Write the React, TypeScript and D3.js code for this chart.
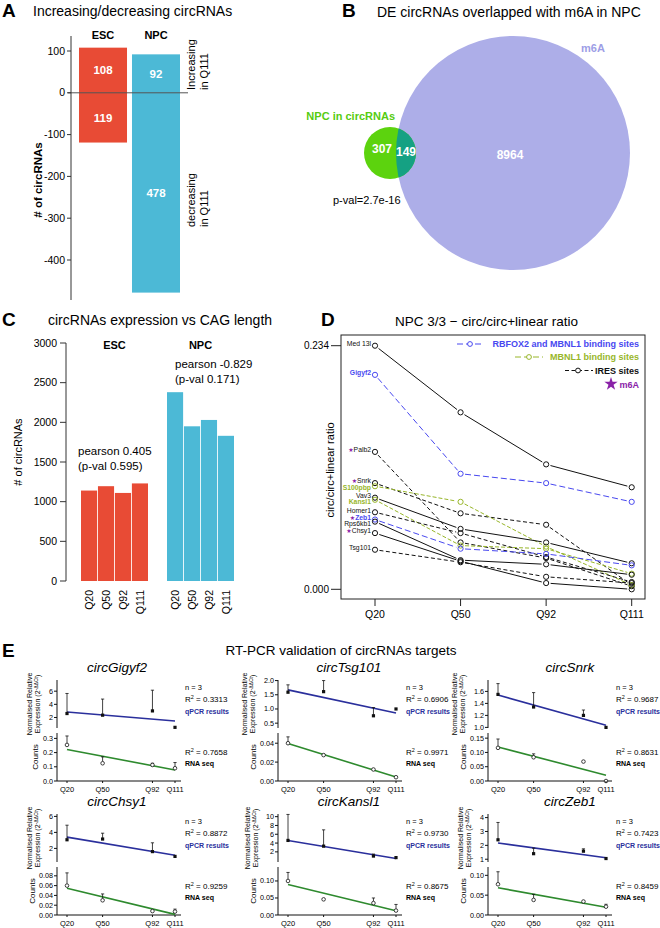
import React from "react";
import * as d3 from "d3";

const FONT = "'Liberation Sans', Arial, Helvetica, sans-serif";
const RED = "#e84b35";
const CYAN = "#4cb9d6";
const D_BLUE = "#4848f0";
const D_GREEN = "#98b62a";
const D_PURPLE = "#8a22a8";

// ---------- A: increasing / decreasing circRNAs
const aGroups = ["ESC", "NPC"];
const aUp = [108, 92];
const aDown = [119, 478];
const aTicks = [100, 0, -100, -200, -300, -400];

// ---------- B: venn
const bSetNames = ["NPC in circRNAs", "m6A"];
const bCounts = [307, 149, 8964]; // NPC only, overlap, m6A only
const bPval = "p-val=2.7e-16";

// ---------- C: expression vs CAG length
const cLabels = ["Q20", "Q50", "Q92", "Q111"];
const cEsc = [1140, 1195, 1110, 1230];
const cNpc = [2380, 1950, 2030, 1830];
const cTicks = [0, 500, 1000, 1500, 2000, 2500, 3000];
const cEscStats = ["pearson 0.405", "(p-val 0.595)"];
const cNpcStats = ["pearson -0.829", "(p-val 0.171)"];

// ---------- D: circ/circ+linear ratio
const dCags = ["Q20", "Q50", "Q92", "Q111"];
const dNames = ["Med 13l", "Gigyf2", "Palb2", "Snrk", "S100pbp", "Vav3", "Kansl1", "Homer1", "Zeb1", "Rps6kb1", "Chsy1", "Tsg101"];
const dGroup = ["none", "rbfox", "ires", "ires", "mbnl", "none", "mbnl", "ires", "rbfox", "none", "none", "ires"];
const dM6a = [false, false, true, true, false, false, false, false, true, false, true, false];
const dValues = [
  [0.234, 0.170, 0.120, 0.098],
  [0.206, 0.111, 0.102, 0.084],
  [0.132, 0.045, 0.030, 0.003],
  [0.102, 0.073, 0.062, 0.004],
  [0.099, 0.084, 0.041, 0.004],
  [0.088, 0.058, 0.045, 0.025],
  [0.086, 0.042, 0.039, 0.015],
  [0.074, 0.054, 0.031, 0.007],
  [0.067, 0.039, 0.034, 0.023],
  [0.065, 0.028, 0.024, 0.014],
  [0.054, 0.027, 0.006, 0.000],
  [0.038, 0.026, 0.012, 0.006],
];
const dLegend = ["RBFOX2 and MBNL1 binding sites", "MBNL1 binding sites", "IRES sites", "m6A"];

// ---------- E: RT-PCR validation
const eGenes = ["circGigyf2", "circTsg101", "circSnrk", "circChsy1", "circKansl1", "circZeb1"];
const eCag = [20, 50, 92, 111];
const eCagLabels = ["Q20", "Q50", "Q92", "Q111"];
const eQpcrMean = [
  [2.6, 2.35, 3.0, 0.5],
  [1.59, 1.61, 0.76, 1.0],
  [1.55, 1.34, 1.2, 1.0],
  [3.08, 3.17, 1.6, 1.0],
  [4.6, 3.3, 1.05, 0.7],
  [2.4, 1.4, 1.58, 1.05],
];
const eQpcrTop = [
  [5.65, 4.8, 6.15, null],
  [1.85, 2.0, 1.05, null],
  [1.73, 1.58, 1.29, null],
  [4.9, 3.9, 2.7, null],
  [10.5, 7.0, 1.5, null],
  [3.65, 1.8, 1.75, null],
];
const eQpcrDomain = [[0.4, 7.7], [0.33, 2.02], [0.99, 1.79], [0.3, 6.3], [-0.3, 10.6], [0.8, 4.26]];
const eQpcrTicks = [[2, 4, 6], [0.5, 1.0, 1.5, 2.0], [1.0, 1.2, 1.4, 1.6], [2, 4, 6], [2, 4, 6, 8, 10], [1, 2, 3, 4]];
const eQpcrDigits = [0, 1, 1, 0, 0, 0];
const eSeqMean = [
  [0.254, 0.125, 0.113, 0.09],
  [0.040, 0.0274, 0.0122, 0.004],
  [0.116, 0.083, 0.068, 0.0],
  [0.06, 0.03, 0.008, 0.007],
  [0.10, 0.046, 0.035, 0.013],
  [0.0775, 0.038, 0.034, 0.021],
];
const eSeqTop = [
  [0.317, 0.17, 0.125, 0.13],
  [0.0467, null, null, null],
  [0.147, 0.095, null, null],
  [0.086, 0.043, null, 0.012],
  [0.125, null, 0.05, 0.031],
  [0.109, 0.052, null, 0.027],
];
const eSeqMax = [0.338, 0.0508, 0.168, 0.098, 0.141, 0.121];
const eSeqTicks = [[0, 0.1, 0.2, 0.3], [0, 0.02, 0.04], [0, 0.05, 0.1, 0.15], [0, 0.02, 0.04, 0.06, 0.08], [0, 0.05, 0.1], [0, 0.05, 0.1]];
const eSeqDigits = [1, 2, 2, 2, 2, 2];
const eR2Qpcr = ["0.3313", "0.6906", "0.9687", "0.8872", "0.9730", "0.7423"];
const eR2Seq = ["0.7658", "0.9971", "0.8631", "0.9259", "0.8675", "0.8459"];

// layout for E
const eAxisX = [57, 278, 488];
const eTitleX = [117, 349, 570];
const eRowShift = [0, 134];

function fit(xs: number[], ys: number[]) {
  const mx = d3.mean(xs) as number;
  const my = d3.mean(ys) as number;
  const sxy = d3.sum(xs, (x, i) => (x - mx) * (ys[i] - my));
  const sxx = d3.sum(xs, (x) => (x - mx) * (x - mx));
  const b = sxy / sxx;
  return (x: number) => my + b * (x - mx);
}

function PanelA() {
  const y = d3.scaleLinear().domain([100, -400]).range([51, 260]);
  const x = d3.scaleBand().domain(aGroups).range([79, 180]).paddingInner(0.094);
  const bw = x.bandwidth();
  const colors = [RED, CYAN];
  return (
    <g>
      <text x={2} y={17} fontSize={19} fontWeight="bold">A</text>
      <text x={33} y={16} fontSize={14}>Increasing/decreasing circRNAs</text>
      {aGroups.map((g, i) => {
        const cx = (x(g) as number) + bw / 2;
        return (
          <g key={g}>
            <rect x={x(g)} y={y(aUp[i])} width={bw} height={y(-aDown[i]) - y(aUp[i])} fill={colors[i]} />
            <text x={cx} y={(y(aUp[i]) + y(0)) / 2} dy="0.35em" textAnchor="middle" fill="#fff" fontSize={11.5} fontWeight="bold">{aUp[i]}</text>
            <text x={cx} y={(y(0) + y(-aDown[i])) / 2} dy="0.35em" textAnchor="middle" fill="#fff" fontSize={11.5} fontWeight="bold">{aDown[i]}</text>
            <text x={cx} y={39} textAnchor="middle" fontSize={11} fontWeight="bold">{g}</text>
          </g>
        );
      })}
      <line x1={68} x2={188} y1={y(0)} y2={y(0)} stroke="#555" strokeWidth={1} />
      <line x1={71} x2={71} y1={36} y2={300} stroke="#333" strokeWidth={1} />
      {aTicks.map((t) => (
        <g key={t}>
          <line x1={67} x2={71} y1={y(t)} y2={y(t)} stroke="#333" />
          <text x={65} y={y(t)} dy="0.35em" textAnchor="end" fontSize={10.5}>{t}</text>
        </g>
      ))}
      <text transform="translate(42,180) rotate(-90)" textAnchor="middle" fontSize={11.5} fontWeight="bold"># of circRNAs</text>
      <g fontSize={11}>
        <text transform="translate(195,90) rotate(-90)">Increasing</text>
        <text transform="translate(208,90) rotate(-90)">in Q111</text>
        <text transform="translate(195,227) rotate(-90)">decreasing</text>
        <text transform="translate(208,227) rotate(-90)">in Q111</text>
      </g>
    </g>
  );
}

function PanelB() {
  const big = { cx: 513, cy: 153, r: 117 };
  const small = { cx: 390, cy: 153, r: 26 };
  return (
    <g>
      <defs>
        <clipPath id="bigClip">
          <circle cx={big.cx} cy={big.cy} r={big.r} />
        </clipPath>
      </defs>
      <text x={342} y={17} fontSize={19} fontWeight="bold">B</text>
      <text x={377} y={17} fontSize={14}>DE circRNAs overlapped with m6A in NPC</text>
      <circle cx={big.cx} cy={big.cy} r={big.r} fill="#adaee8" />
      <circle cx={small.cx} cy={small.cy} r={small.r} fill="#5cd30e" />
      <circle cx={small.cx} cy={small.cy} r={small.r} fill="#15a183" clipPath="url(#bigClip)" />
      <text x={382} y={149} dy="0.35em" textAnchor="middle" fill="#fff" fontSize={12} fontWeight="bold">{bCounts[0]}</text>
      <text x={406} y={152} dy="0.35em" textAnchor="middle" fill="#fff" fontSize={12} fontWeight="bold">{bCounts[1]}</text>
      <text x={510} y={155} dy="0.35em" textAnchor="middle" fill="#fff" fontSize={12} fontWeight="bold">{bCounts[2]}</text>
      <text x={593} y={52} textAnchor="middle" fill="#9d9ee6" fontSize={11} fontWeight="bold">{bSetNames[1]}</text>
      <text x={395} y={120} textAnchor="end" fill="#56cc10" fontSize={11} fontWeight="bold">{bSetNames[0]}</text>
      <text x={333} y={204} fontSize={11}>{bPval}</text>
    </g>
  );
}

function PanelC() {
  const y = d3.scaleLinear().domain([0, 3000]).range([581, 343]);
  const xE = d3.scaleBand().domain(cLabels).range([81, 148]).paddingInner(0.05);
  const xN = d3.scaleBand().domain(cLabels).range([167, 234]).paddingInner(0.05);
  const groups = [
    { name: "ESC", x: xE, v: cEsc, c: RED },
    { name: "NPC", x: xN, v: cNpc, c: CYAN },
  ];
  return (
    <g>
      <text x={2} y={326} fontSize={19} fontWeight="bold">C</text>
      <text x={48} y={325} fontSize={14}>circRNAs expression vs CAG length</text>
      <line x1={66} x2={66} y1={y(3000)} y2={y(0)} stroke="#333" />
      {cTicks.map((t) => (
        <g key={t}>
          <line x1={60} x2={66} y1={y(t)} y2={y(t)} stroke="#333" />
          <text x={57} y={y(t)} dy="0.35em" textAnchor="end" fontSize={10.5}>{t}</text>
        </g>
      ))}
      {groups.map((g) => {
        const [r0, r1] = g.x.range();
        return (
          <g key={g.name}>
            {cLabels.map((l, i) => (
              <rect key={l} x={g.x(l)} y={y(g.v[i])} width={g.x.bandwidth()} height={y(0) - y(g.v[i])} fill={g.c} />
            ))}
            {cLabels.map((l) => (
              <text key={l} transform={`translate(${(g.x(l) as number) + g.x.bandwidth() / 2},590) rotate(-90)`} dy="0.35em" textAnchor="end" fontSize={10.5}>{l}</text>
            ))}
            <text x={(r0 + r1) / 2} y={349} textAnchor="middle" fontSize={11} fontWeight="bold">{g.name}</text>
          </g>
        );
      })}
      <text x={78} y={455} fontSize={11.5}>{cEscStats[0]}</text>
      <text x={78} y={470} fontSize={11.5}>{cEscStats[1]}</text>
      <text x={175} y={368} fontSize={11.5}>{cNpcStats[0]}</text>
      <text x={175} y={383} fontSize={11.5}>{cNpcStats[1]}</text>
      <text transform="translate(22,452) rotate(-90)" textAnchor="middle" fontSize={11}># of circRNAs</text>
    </g>
  );
}

const dStyle: Record<string, { color: string; dash?: string }> = {
  none: { color: "#111" },
  ires: { color: "#111", dash: "4,2.5" },
  mbnl: { color: D_GREEN, dash: "4,2" },
  rbfox: { color: D_BLUE, dash: "6,3" },
};

function PanelD() {
  const x = d3.scalePoint().domain(dCags).range([375, 631.7]);
  const y = d3.scaleLinear().domain([0, 0.234]).range([589.3, 345.7]);
  const gap = 4.5;

  // dodge Q20 labels so they do not overlap
  const order = d3.range(dNames.length).sort((a, b) => y(dValues[a][0]) - y(dValues[b][0]));
  const labelY: number[] = [];
  let last = -Infinity;
  order.forEach((k) => {
    const yy = Math.max(y(dValues[k][0]) - 2, last + 6.3);
    labelY[k] = yy;
    last = yy;
  });

  const star = d3.symbol().type(d3.symbolStar).size(55)() as string;

  return (
    <g>
      <text x={321} y={326} fontSize={19} fontWeight="bold">D</text>
      <text x={395} y={326} fontSize={13.5}>NPC 3/3 − circ/circ+linear ratio</text>
      <rect x={341} y={335} width={304} height={264} fill="none" stroke="#222" />
      {[0, 0.234].map((t) => (
        <g key={t}>
          <line x1={331} x2={341} y1={y(t)} y2={y(t)} stroke="#222" />
          <text x={329} y={y(t)} dy="0.35em" textAnchor="end" fontSize={10}>{t.toFixed(3)}</text>
        </g>
      ))}
      {dCags.map((c) => (
        <g key={c}>
          <line x1={x(c)} x2={x(c)} y1={599} y2={606} stroke="#222" />
          <text x={x(c)} y={618} textAnchor="middle" fontSize={10.5}>{c}</text>
        </g>
      ))}
      <text transform="translate(334,470) rotate(-90)" textAnchor="middle" fontSize={11}>circ/circ+linear ratio</text>

      {dValues.map((vals, k) => {
        const st = dStyle[dGroup[k]];
        const pts = vals.map((v, i) => [x(dCags[i]) as number, y(v)]);
        return (
          <g key={dNames[k]}>
            {pts.slice(0, -1).map((p, i) => {
              const q = pts[i + 1];
              const dx = q[0] - p[0], dy = q[1] - p[1];
              const len = Math.hypot(dx, dy);
              const ux = dx / len, uy = dy / len;
              return (
                <line key={i} x1={p[0] + ux * gap} y1={p[1] + uy * gap} x2={q[0] - ux * gap} y2={q[1] - uy * gap}
                  stroke={st.color} strokeWidth={1} strokeDasharray={st.dash} />
              );
            })}
            {pts.map((p, i) => (
              <circle key={i} cx={p[0]} cy={p[1]} r={2.6} fill="none" stroke={st.color} strokeWidth={1} />
            ))}
          </g>
        );
      })}

      {dNames.map((n, k) => {
        const g = dGroup[k];
        const col = g === "rbfox" ? D_BLUE : g === "mbnl" ? D_GREEN : "#111";
        return (
          <text key={n} x={371} y={labelY[k]} dy="0.35em" textAnchor="end" fontSize={6.8}
            fill={col} fontWeight={g === "rbfox" || g === "mbnl" ? "bold" : "normal"}>
            {dM6a[k] ? <tspan fill={D_PURPLE} fontFamily="DejaVu Sans" fontSize={6}>★</tspan> : null}
            {n}
          </text>
        );
      })}

      {/* legend */}
      <g fontSize={9} fontWeight="bold">
        <line x1={457} x2={484} y1={344} y2={344} stroke={D_BLUE} strokeDasharray="6,3" />
        <circle cx={470} cy={344} r={2.4} fill="#fff" stroke={D_BLUE} />
        <text x={639} y={347.3} textAnchor="end" fill={D_BLUE}>{dLegend[0]}</text>
        <line x1={515} x2={543} y1={357} y2={357} stroke={D_GREEN} strokeDasharray="6,3" />
        <circle cx={529} cy={357} r={2.4} fill="#fff" stroke={D_GREEN} />
        <text x={639} y={360.3} textAnchor="end" fill={D_GREEN}>{dLegend[1]}</text>
        <line x1={565} x2={593} y1={370.5} y2={370.5} stroke="#111" strokeDasharray="4,2.5" />
        <circle cx={578} cy={370.5} r={2.4} fill="#fff" stroke="#111" />
        <text x={639} y={373.5} textAnchor="end" fill="#111">{dLegend[2]}</text>
        <path d={star} transform="translate(611,384)" fill={D_PURPLE} />
        <text x={639} y={387.5} textAnchor="end" fill={D_PURPLE}>{dLegend[3]}</text>
      </g>
    </g>
  );
}

function ESub({ i }: { i: number }) {
  const col = i % 3;
  const row = Math.floor(i / 3);
  const ax = eAxisX[col];
  const s = eRowShift[row];
  const x = d3.scaleLinear().domain([20, 111]).range([ax + 10, ax + 118]);
  const yU = d3.scaleLinear().domain(eQpcrDomain[i]).range([728 + s, 680 + s]);
  const yL = d3.scaleLinear().domain([0, eSeqMax[i]]).range([781 + s, 733 + s]);
  const fU = fit(eCag, eQpcrMean[i]);
  const fL = fit(eCag, eSeqMean[i]);
  const x0 = eCag[0], x1 = eCag[eCag.length - 1];
  const tx = ax + 128;
  const lenU = d3.max(eQpcrTicks[i], (t) => t.toFixed(eQpcrDigits[i]).length) as number;
  const lenL = d3.max(eSeqTicks[i], (t) => t.toFixed(eSeqDigits[i]).length) as number;
  const exprX = ax - 17 - (lenU - 1) * 3;
  const countsX = ax - 8 - lenL * 3.6;
  return (
    <g>
      <text x={eTitleX[col]} y={672 + s} textAnchor="middle" fontSize={13.5} fontStyle="italic">{eGenes[i]}</text>
      {/* upper: qPCR */}
      <line x1={ax} x2={ax} y1={680 + s} y2={728 + s} stroke="#111" />
      {eQpcrTicks[i].map((t) => (
        <g key={t}>
          <line x1={ax - 3} x2={ax} y1={yU(t)} y2={yU(t)} stroke="#111" />
          <text x={ax - 4} y={yU(t)} dy="0.35em" textAnchor="end" fontSize={7.2}>{t.toFixed(eQpcrDigits[i])}</text>
        </g>
      ))}
      <line x1={x(x0)} x2={x(x1)} y1={yU(fU(x0))} y2={yU(fU(x1))} stroke="#2a2f9c" strokeWidth={1.6} />
      {eCag.map((c, j) => {
        const top = eQpcrTop[i][j];
        return (
          <g key={c}>
            {top != null ? (
              <g stroke="#111" strokeWidth={0.8}>
                <line x1={x(c)} x2={x(c)} y1={yU(eQpcrMean[i][j])} y2={yU(top)} />
                <line x1={x(c) - 1.6} x2={x(c) + 1.6} y1={yU(top)} y2={yU(top)} />
              </g>
            ) : null}
            <rect x={x(c) - 1.6} y={yU(eQpcrMean[i][j]) - 1.6} width={3.2} height={3.2} fill="#111" />
          </g>
        );
      })}
      {/* lower: RNA seq */}
      <line x1={ax} x2={ax} y1={733 + s} y2={781 + s} stroke="#111" />
      <line x1={ax} x2={ax + 124} y1={781 + s} y2={781 + s} stroke="#111" />
      {eSeqTicks[i].map((t) => (
        <g key={t}>
          <line x1={ax - 3} x2={ax} y1={yL(t)} y2={yL(t)} stroke="#111" />
          <text x={ax - 4} y={yL(t)} dy="0.35em" textAnchor="end" fontSize={7.2}>{t.toFixed(eSeqDigits[i])}</text>
        </g>
      ))}
      <line x1={x(x0)} x2={x(x1)} y1={yL(fL(x0))} y2={yL(fL(x1))} stroke="#2e8a2e" strokeWidth={1.6} />
      {eCag.map((c, j) => {
        const top = eSeqTop[i][j];
        return (
          <g key={c}>
            {top != null ? (
              <g stroke="#111" strokeWidth={0.8}>
                <line x1={x(c)} x2={x(c)} y1={yL(eSeqMean[i][j]) - 1.8} y2={yL(top)} />
                <line x1={x(c) - 1.6} x2={x(c) + 1.6} y1={yL(top)} y2={yL(top)} />
              </g>
            ) : null}
            <circle cx={x(c)} cy={yL(eSeqMean[i][j])} r={1.8} fill="#fff" stroke="#111" strokeWidth={0.8} />
            <line x1={x(c)} x2={x(c)} y1={781 + s} y2={783 + s} stroke="#111" />
            <text x={x(c)} y={792 + s} textAnchor="middle" fontSize={7.5}>{eCagLabels[j]}</text>
          </g>
        );
      })}
      {/* y labels */}
      <text transform={`translate(${exprX - 8},${704 + s}) rotate(-90)`} textAnchor="middle" fontSize={7}>Normalised Relative</text>
      <text transform={`translate(${exprX},${704 + s}) rotate(-90)`} textAnchor="middle" fontSize={7}>
        Expression (2<tspan dy={-2.5} fontSize={5}>-ΔΔCt</tspan><tspan dy={2.5}>)</tspan>
      </text>
      <text transform={`translate(${countsX},${757 + s}) rotate(-90)`} textAnchor="middle" fontSize={8}>Counts</text>
      {/* stats */}
      <text x={tx} y={690 + s} fontSize={7.5}>n = 3</text>
      <text x={tx} y={702 + s} fontSize={8}>R<tspan dy={-3} fontSize={5.5}>2</tspan><tspan dy={3}> = {eR2Qpcr[i]}</tspan></text>
      <text x={tx} y={714 + s} fontSize={7} fontWeight="bold" fill="#2a2f9c">qPCR results</text>
      <text x={tx} y={755 + s} fontSize={8}>R<tspan dy={-3} fontSize={5.5}>2</tspan><tspan dy={3}> = {eR2Seq[i]}</tspan></text>
      <text x={tx} y={766 + s} fontSize={7} fontWeight="bold">RNA seq</text>
    </g>
  );
}

function PanelE() {
  return (
    <g>
      <text x={2} y={657} fontSize={19} fontWeight="bold">E</text>
      <text x={341} y={655} textAnchor="middle" fontSize={13.5}>RT-PCR validation of circRNAs targets</text>
      {eGenes.map((g, i) => (
        <ESub key={g} i={i} />
      ))}
    </g>
  );
}

export default function App() {
  return (
    <svg width={660} height={928} style={{ position: "absolute", left: 0, top: 0, background: "#fff" }} fontFamily={FONT}>
      <rect width={660} height={928} fill="#fff" />
      <PanelA />
      <PanelB />
      <PanelC />
      <PanelD />
      <PanelE />
    </svg>
  );
}
